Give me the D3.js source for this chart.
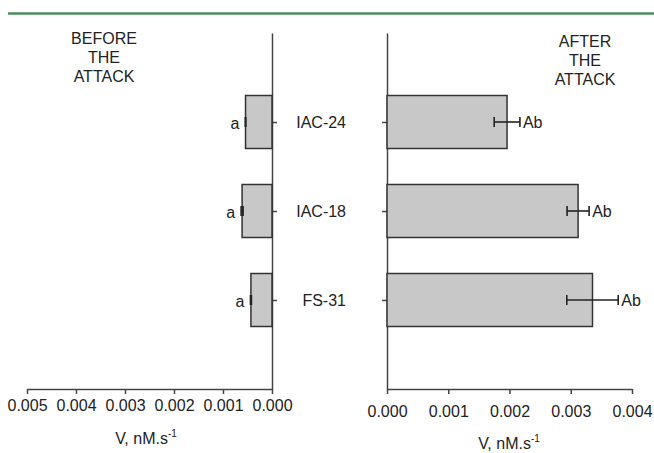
<!DOCTYPE html>
<html>
<head>
<meta charset="utf-8">
<script src="https://cdn.jsdelivr.net/npm/d3@7"></script>
<style>
  body { margin: 0; background: #fff; }
  svg { display: block; }
  text { font-family: "Liberation Sans", Arial, sans-serif; fill: #222; }
</style>
</head>
<body>
<div id="box"></div>
<script>
// data
const categories = ["IAC-24", "IAC-18", "FS-31"];
const beforeValues = [0.00054, 0.00061, 0.00043];
const beforeErrors = [0.000005, 0.00002, 0.00001];
const beforeLabels = ["a", "a", "a"];
const afterValues = [0.00196, 0.00312, 0.003355];
const afterErrors = [0.00021, 0.00018, 0.00042];
const afterLabels = ["Ab", "Ab", "Ab"];
const beforeTicks = [0.005, 0.004, 0.003, 0.002, 0.001, 0.000];
const afterTicks = [0.000, 0.001, 0.002, 0.003, 0.004];

const width = 654, height = 453;
const plotTop = 33, plotBottom = 389;
const axisColor = "#444";
const fs = "16px";
const fmt = d3.format(".3f");

const svg = d3.select("#box").append("svg")
  .attr("width", width)
  .attr("height", height);

// green rule on top
svg.append("line")
  .attr("x1", 8).attr("x2", width)
  .attr("y1", 13.5).attr("y2", 13.5)
  .attr("stroke", "#4b8c5c")
  .attr("stroke-width", 2.5);

const yScale = d3.scalePoint()
  .domain(categories)
  .range([plotTop, plotBottom])
  .padding(1);
const barH = 53;

const xLeft = d3.scaleLinear().domain([0.005, 0]).range([27, 272]);
const xRight = d3.scaleLinear().domain([0, 0.004]).range([387, 632]);

function styleAxis(g) {
  g.selectAll("path, line").attr("stroke", axisColor).attr("stroke-width", 1.5);
  g.selectAll("text")
    .style("font-family", '"Liberation Sans", Arial, sans-serif')
    .style("font-size", fs)
    .attr("fill", "#222");
}

// ---- before panel ----
svg.append("g")
  .attr("transform", `translate(0, ${plotBottom})`)
  .call(d3.axisBottom(xLeft).tickValues(beforeTicks).tickFormat(fmt)
    .tickSize(5).tickSizeOuter(0).tickPadding(6))
  .call(styleAxis);

svg.append("g")
  .attr("transform", `translate(${xLeft(0)}, 0)`)
  .call(d3.axisRight(yScale).tickSize(5).tickSizeOuter(0).tickFormat(""))
  .call(styleAxis);

svg.selectAll(".barBefore")
  .data(beforeValues)
  .enter()
  .append("rect")
  .attr("class", "barBefore")
  .attr("x", d => xLeft(d))
  .attr("width", d => xLeft(0) - xLeft(d))
  .attr("y", (d, i) => yScale(categories[i]) - barH / 2)
  .attr("height", barH)
  .attr("fill", "#c8c8c8")
  .attr("stroke", "#333")
  .attr("stroke-width", 1.5);

// ---- after panel ----
svg.append("g")
  .attr("transform", `translate(0, ${plotBottom})`)
  .call(d3.axisBottom(xRight).tickValues(afterTicks).tickFormat(fmt)
    .tickSize(5).tickSizeOuter(0).tickPadding(12))
  .call(styleAxis);

svg.append("g")
  .attr("transform", `translate(${xRight(0)}, 0)`)
  .call(d3.axisLeft(yScale).tickSize(5).tickSizeOuter(0).tickFormat(""))
  .call(styleAxis);

svg.selectAll(".barAfter")
  .data(afterValues)
  .enter()
  .append("rect")
  .attr("class", "barAfter")
  .attr("x", xRight(0))
  .attr("width", d => xRight(d) - xRight(0))
  .attr("y", (d, i) => yScale(categories[i]) - barH / 2)
  .attr("height", barH)
  .attr("fill", "#c8c8c8")
  .attr("stroke", "#333")
  .attr("stroke-width", 1.5);

// error bars
function errorBars(vals, errs, scale) {
  const g = svg.append("g").attr("stroke", "#222").attr("stroke-width", 1.6);
  vals.forEach((v, i) => {
    const y = yScale(categories[i]);
    const x1 = scale(v - errs[i]), x2 = scale(v + errs[i]);
    g.append("line").attr("x1", x1).attr("x2", x2).attr("y1", y).attr("y2", y);
    g.append("line").attr("x1", x1).attr("x2", x1).attr("y1", y - 5).attr("y2", y + 5);
    g.append("line").attr("x1", x2).attr("x2", x2).attr("y1", y - 5).attr("y2", y + 5);
  });
}
errorBars(beforeValues, beforeErrors, xLeft);
errorBars(afterValues, afterErrors, xRight);

// significance letters
svg.selectAll(".lblBefore")
  .data(beforeLabels)
  .enter()
  .append("text")
  .attr("x", (d, i) => xLeft(beforeValues[i] + beforeErrors[i]) - 6)
  .attr("y", (d, i) => yScale(categories[i]))
  .attr("dy", "0.45em")
  .attr("text-anchor", "end")
  .style("font-size", fs)
  .text(d => d);

svg.selectAll(".lblAfter")
  .data(afterLabels)
  .enter()
  .append("text")
  .attr("x", (d, i) => xRight(afterValues[i] + afterErrors[i]) + 3)
  .attr("y", (d, i) => yScale(categories[i]))
  .attr("dy", "0.36em")
  .style("font-size", fs)
  .text(d => d);

// category names between panels
svg.selectAll(".cat")
  .data(categories)
  .enter()
  .append("text")
  .attr("x", 346)
  .attr("y", d => yScale(d))
  .attr("dy", "0.36em")
  .attr("text-anchor", "end")
  .style("font-size", fs)
  .text(d => d);

// panel titles
function panelTitle(lines, x, y0) {
  const t = svg.append("text")
    .attr("text-anchor", "middle")
    .style("font-size", "16px");
  lines.forEach((l, i) => {
    t.append("tspan").attr("x", x).attr("y", y0 + i * 19).text(l);
  });
}
panelTitle(["BEFORE", "THE", "ATTACK"], 104, 43.5);
panelTitle(["AFTER", "THE", "ATTACK"], 585, 47);

// axis titles
function axisTitle(x, y) {
  const t = svg.append("text")
    .attr("x", x).attr("y", y)
    .attr("text-anchor", "middle")
    .style("font-size", "16px");
  t.append("tspan").text("V, nM.s");
  t.append("tspan").attr("dy", -7).style("font-size", "10px").text("-1");
}
axisTitle(146, 444);
axisTitle(509, 449);
</script>
</body>
</html>
